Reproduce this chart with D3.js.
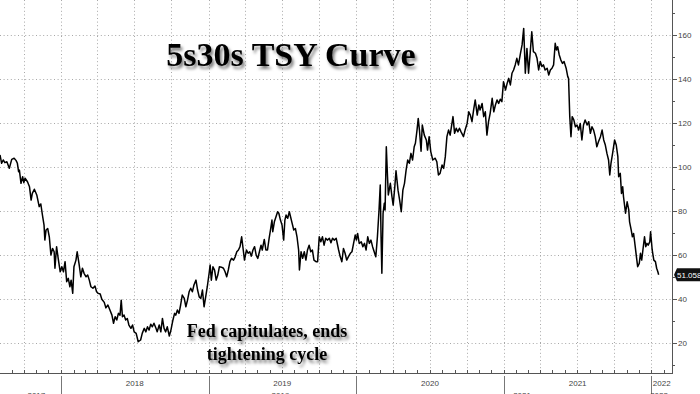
<!DOCTYPE html>
<html lang="en">
<head>
<meta charset="utf-8" />
<title>5s30s TSY Curve</title>
<script src="https://cdn.jsdelivr.net/npm/d3@7"></script>
<style>
  body { margin: 0; background: #fff; }
  svg { display: block; }
  .axis-label { font-family: "Liberation Sans", Arial, sans-serif; font-size: 8px; fill: #444; }
  .serif { font-family: "Liberation Serif", "Times New Roman", serif; font-weight: bold; fill: #000; }
</style>
</head>
<body>
<div id="chart"></div>
<script>
// 5s30s spread (bp)
const dates = [
  '2017-08-03','2017-08-07','2017-08-11','2017-08-15','2017-08-20','2017-08-26','2017-09-01','2017-09-07','2017-09-12','2017-09-15',
  '2017-09-18','2017-09-20','2017-09-24','2017-09-28','2017-10-01','2017-10-04','2017-10-10','2017-10-15','2017-10-19','2017-10-22',
  '2017-10-27','2017-11-02','2017-11-08','2017-11-12','2017-11-16','2017-11-20','2017-11-22','2017-11-25','2017-11-29','2017-12-03',
  '2017-12-07','2017-12-11','2017-12-15','2017-12-17','2017-12-21','2017-12-25','2017-12-30',
  '2018-01-03','2018-01-07','2018-01-11','2018-01-15','2018-01-19','2018-01-23','2018-01-26','2018-01-30','2018-02-02','2018-02-07',
  '2018-02-10','2018-02-15','2018-02-19','2018-02-23','2018-02-27','2018-03-04','2018-03-08','2018-03-12','2018-03-16','2018-03-21',
  '2018-03-26','2018-03-30','2018-04-03','2018-04-08','2018-04-12','2018-04-18','2018-04-22','2018-04-27','2018-05-02','2018-05-07',
  '2018-05-11','2018-05-15','2018-05-19','2018-05-23','2018-05-27','2018-05-30','2018-06-02','2018-06-06','2018-06-10','2018-06-14',
  '2018-06-18','2018-06-23','2018-06-27','2018-07-01','2018-07-06','2018-07-11','2018-07-17','2018-07-21','2018-07-26','2018-07-30',
  '2018-08-03','2018-08-07','2018-08-11','2018-08-15','2018-08-19','2018-08-24','2018-08-27','2018-09-01','2018-09-05','2018-09-09',
  '2018-09-13','2018-09-17','2018-09-21','2018-09-26','2018-09-30','2018-10-05','2018-10-09','2018-10-12','2018-10-16','2018-10-20',
  '2018-10-24','2018-10-28','2018-11-02','2018-11-06','2018-11-10','2018-11-14','2018-11-18','2018-11-22','2018-11-26','2018-12-01',
  '2018-12-05','2018-12-09','2018-12-13','2018-12-17','2018-12-21','2018-12-25','2018-12-29',
  '2019-01-03','2019-01-05','2019-01-08','2019-01-12','2019-01-16','2019-01-20','2019-01-24','2019-01-28','2019-02-02','2019-02-07',
  '2019-02-11','2019-02-15','2019-02-19','2019-02-23','2019-02-27','2019-03-04','2019-03-08','2019-03-12','2019-03-16','2019-03-20',
  '2019-03-24','2019-03-28','2019-03-31','2019-04-05','2019-04-09','2019-04-13','2019-04-17','2019-04-21','2019-04-25','2019-04-29',
  '2019-05-03','2019-05-07','2019-05-11','2019-05-14','2019-05-19','2019-05-23','2019-05-27','2019-05-31','2019-06-04','2019-06-07',
  '2019-06-09','2019-06-13','2019-06-17','2019-06-21','2019-06-24','2019-06-28','2019-07-02','2019-07-06','2019-07-09','2019-07-12',
  '2019-07-16','2019-07-20','2019-07-23','2019-07-27','2019-07-31','2019-08-04','2019-08-08','2019-08-12','2019-08-14','2019-08-18',
  '2019-08-22','2019-08-26','2019-08-30','2019-09-03','2019-09-07','2019-09-11','2019-09-15','2019-09-19','2019-09-24','2019-09-28',
  '2019-10-02','2019-10-06','2019-10-10','2019-10-14','2019-10-18','2019-10-22','2019-10-27','2019-10-31','2019-11-04','2019-11-08',
  '2019-11-13','2019-11-19','2019-11-23','2019-11-27','2019-12-01','2019-12-05','2019-12-09','2019-12-13','2019-12-18','2019-12-22',
  '2019-12-26','2019-12-30',
  '2020-01-02','2020-01-05','2020-01-09','2020-01-14','2020-01-18','2020-01-22','2020-01-26','2020-01-30','2020-02-03','2020-02-07',
  '2020-02-11','2020-02-15','2020-02-19','2020-02-23','2020-02-27','2020-03-01','2020-03-03','2020-03-05','2020-03-08','2020-03-11',
  '2020-03-13','2020-03-16','2020-03-19','2020-03-21','2020-03-26','2020-03-30','2020-04-02','2020-04-06','2020-04-09','2020-04-14',
  '2020-04-18','2020-04-22','2020-04-26','2020-04-30','2020-05-04','2020-05-08','2020-05-12','2020-05-16','2020-05-20','2020-05-24',
  '2020-05-27','2020-05-31','2020-06-03','2020-06-06','2020-06-10','2020-06-13','2020-06-18','2020-06-23','2020-06-26','2020-06-30',
  '2020-07-04','2020-07-09','2020-07-15','2020-07-19','2020-07-23','2020-07-27','2020-08-01','2020-08-05','2020-08-09','2020-08-13',
  '2020-08-17','2020-08-21','2020-08-28','2020-09-01','2020-09-05','2020-09-09','2020-09-13','2020-09-17','2020-09-23','2020-09-27',
  '2020-10-02','2020-10-06','2020-10-10','2020-10-14','2020-10-18','2020-10-22','2020-10-27','2020-10-31','2020-11-03','2020-11-08',
  '2020-11-12','2020-11-16','2020-11-20','2020-11-24','2020-11-28','2020-12-03','2020-12-07','2020-12-11','2020-12-15','2020-12-19',
  '2020-12-23','2020-12-27','2020-12-31',
  '2021-01-05','2021-01-09','2021-01-13','2021-01-17','2021-01-21','2021-01-25','2021-01-29','2021-02-02','2021-02-06','2021-02-11',
  '2021-02-15','2021-02-19','2021-02-23','2021-02-27','2021-03-03','2021-03-07','2021-03-11','2021-03-15','2021-03-20','2021-03-24',
  '2021-03-28','2021-04-01','2021-04-05','2021-04-09','2021-04-13','2021-04-18','2021-04-22','2021-04-26','2021-04-30','2021-05-04',
  '2021-05-08','2021-05-11','2021-05-14','2021-05-18','2021-05-22','2021-05-26','2021-05-30','2021-06-04','2021-06-08','2021-06-10',
  '2021-06-13','2021-06-16','2021-06-19','2021-06-23','2021-06-27','2021-07-01','2021-07-05','2021-07-09','2021-07-13','2021-07-17',
  '2021-07-21','2021-07-26','2021-07-30','2021-08-03','2021-08-07','2021-08-11','2021-08-15','2021-08-19','2021-08-23','2021-08-28',
  '2021-09-01','2021-09-05','2021-09-09','2021-09-13','2021-09-17','2021-09-20','2021-09-23','2021-09-27','2021-10-02','2021-10-06',
  '2021-10-10','2021-10-12','2021-10-16','2021-10-19','2021-10-22','2021-10-24','2021-10-29','2021-11-02','2021-11-06','2021-11-08',
  '2021-11-12','2021-11-15','2021-11-18','2021-11-22','2021-11-25','2021-11-28','2021-12-02','2021-12-05','2021-12-08','2021-12-11',
  '2021-12-15','2021-12-18','2021-12-21','2021-12-24','2021-12-28','2021-12-30',
  '2022-01-03','2022-01-07','2022-01-11','2022-01-14','2022-01-17','2022-01-19'
]

const values = [
  105.5,101.7,103.2,102,102.4,99.4,103.5,104,102.9,101.7,
  97.9,98.6,92.6,95.6,92.9,94.9,93.3,91,85,88,
  89.9,87.3,82,83.2,78.2,73.6,66.8,71.4,72.1,68.3,
  60,63,61.5,54,63.8,58.5,52.4,
  54.7,52.4,57,47.9,49.4,45.6,48.6,42.6,54.7,57.7,
  61.5,55.5,50.1,54,51.7,50.1,50.9,48.6,45.6,44.9,
  45.9,43.3,42.6,42.3,39.9,38.5,36,37.3,35,32.7,
  29,32,30.5,33.5,32.7,39.5,32,32.7,30.5,31.2,
  28.2,26.7,28.2,25.1,24.4,20.6,21.4,24.4,26.7,25.1,
  27.4,25.9,28.6,27.4,29,26.7,25.1,28.2,25.1,31.2,
  26.7,25.1,27.4,23.2,25.9,30.5,33.5,32.7,35,33.5,
  37.3,41.8,40.3,36.5,39.5,43.3,44.9,43.3,46.4,48.6,
  44.1,41,40.3,44.1,36.5,41,45.6,
  52.4,55.5,48.6,54.7,53.2,48.6,50.9,54.7,54.5,54,
  52.4,50.1,53.2,57,58.5,57.7,59.2,61.5,62.3,63.8,
  68.3,62.3,57.7,62.3,60.8,61.5,59.5,62.3,63.8,60,
  58.5,61.5,64.5,62.3,67.1,62.3,62.3,67.6,72.1,75.9,
  70.6,75.1,77.4,79.7,79,75.9,73.6,66.8,75.9,78.2,
  76.7,79.7,77.4,74.4,71.4,72.1,68.3,62.3,53.2,61.5,
  58.5,61.5,57.7,62.3,64.5,61.5,62.3,57.7,57,57,
  68.3,66,68.3,64.5,67.6,66.8,67.6,65.6,67.6,66.8,
  67.6,62.3,59.2,57,63,60.8,57.7,59.2,60.8,61.5,
  65.3,69.1,
  66.8,69.8,65.3,66,63.8,65.3,62.3,68.3,65.3,66.8,
  63.8,61.5,59.2,68.3,80.5,91.8,68.3,51.7,79,83.5,
  80.5,109.2,95.6,87.3,92.6,86.5,82.7,91,98.3,89.5,
  85,79.7,89.5,92.6,98.6,103.2,101.7,106.2,103.2,109.2,
  110.8,116.8,122.1,116.8,107.2,119.1,114.5,112.3,107.7,113.8,
  107,103.2,104,102.4,96.4,97.1,100.9,99.4,104.7,113.8,
  116.8,114.5,122.9,115.3,117.6,116,117.6,116,113.8,116.8,
  119.8,125.1,123.6,120.6,125.9,130.5,123.6,128.2,125.9,128.9,
  122.9,125.1,114.5,120.6,124.4,131.2,125.1,128.2,130.5,128.9,
  130.8,129.7,138.8,
  135,138,140.3,137.3,142.6,144.1,146.4,149.4,146.4,151.7,
  155.5,163,142.6,153.9,142.6,151.7,161.5,152.4,151.7,149.4,
  144.1,148,145.7,146.4,144.1,144.9,141.8,144.1,144.9,146.4,
  156.2,153.2,154.7,150.9,148.6,147.1,147.9,144.9,141.1,140.3,
  122.9,113.8,122.9,121.4,118.3,119.1,116.8,119.8,112.3,119.1,
  121.4,119.1,120.6,115.3,118.3,116.8,113.8,109.2,111.5,113.8,
  116.8,112.3,110,106.2,103.2,96.4,101.7,106.2,112.3,110,
  104.7,95.6,97.1,88,91,86.5,79,84.2,80.5,75.1,
  71.4,68.3,69.8,63.8,59.2,54.7,56.2,60.8,57.7,62.3,
  68.3,63.8,65.3,64.5,66,70.6,
  62.3,57.7,57,54,52.4,51.058
]

const xDomain = ['2017-08-03', '2022-02-21']
const yDomain = [6.4, 175.9]
const yTicks = [20, 40, 60, 80, 100, 120, 140, 160]
const yMinorTicks = [10, 30, 50, 70, 90, 110, 130, 150, 170]
const yearLabels = ['2018', '2019', '2020', '2021', '2022']
// second label row, mostly below the bottom edge as in the source
const subLabels = ['2017', '2019', '2021', '2022']
const subLabelDates = ['2017-11-01', '2019-06-28', '2021-02-15', '2022-01-20']
const title = '5s30s TSY Curve'
const note = ['Fed capitulates, ends', 'tightening cycle']

const W = 700, H = 394
const plotRight = 672, plotBottom = 373

const parse = d3.timeParse('%Y-%m-%d')
const data = dates.map((d, i) => ({ date: parse(d), value: values[i] }))

const x = d3.scaleTime().domain(xDomain.map(parse)).range([0, plotRight])
const y = d3.scaleLinear().domain(yDomain).range([plotBottom, 0])

const svg = d3.select('#chart').append('svg').attr('width', W).attr('height', H)
svg.append('rect').attr('width', W).attr('height', H).attr('fill', '#fff')

const defs = svg.append('defs')
defs.append('filter').attr('id', 'shadow')
  .attr('x', '-10%').attr('y', '-30%').attr('width', '130%').attr('height', '180%')
  .append('feDropShadow')
  .attr('dx', 2).attr('dy', 3).attr('stdDeviation', 1.6)
  .attr('flood-color', '#000').attr('flood-opacity', 0.5)

// Grid
const grid = svg.append('g').attr('stroke', '#a8a8a8').attr('stroke-width', 1).attr('stroke-dasharray', '1,2.6')
grid.selectAll('line.h').data(yTicks).join('line')
  .attr('x1', 0).attr('x2', plotRight)
  .attr('y1', (d) => Math.round(y(d)) + 0.5).attr('y2', (d) => Math.round(y(d)) + 0.5)
const quarters = d3.timeMonth.every(3).range(x.domain()[0], x.domain()[1])
grid.selectAll('line.v').data(quarters).join('line')
  .attr('x1', (d) => Math.round(x(d)) + 0.5).attr('x2', (d) => Math.round(x(d)) + 0.5)
  .attr('y1', 0).attr('y2', plotBottom)

// Right axis
const axisCol = '#555'
const yAxis = svg.append('g')
yAxis.append('line').attr('x1', plotRight + 0.5).attr('x2', plotRight + 0.5).attr('y1', 0).attr('y2', plotBottom)
  .attr('stroke', axisCol)
yAxis.selectAll('line.major').data(yTicks).join('line')
  .attr('x1', plotRight).attr('x2', plotRight + 5)
  .attr('y1', (d) => Math.round(y(d)) + 0.5).attr('y2', (d) => Math.round(y(d)) + 0.5)
  .attr('stroke', axisCol)
yAxis.selectAll('line.minor').data(yMinorTicks).join('line')
  .attr('x1', plotRight).attr('x2', plotRight + 3)
  .attr('y1', (d) => Math.round(y(d)) + 0.5).attr('y2', (d) => Math.round(y(d)) + 0.5)
  .attr('stroke', axisCol)
yAxis.selectAll('text').data(yTicks).join('text')
  .attr('class', 'axis-label')
  .attr('x', plotRight + 6).attr('y', (d) => y(d)).attr('dy', '0.35em')
  .text((d) => d)

// Bottom axis
const xAxis = svg.append('g')
xAxis.append('line').attr('x1', 0).attr('x2', plotRight + 1).attr('y1', plotBottom + 0.5).attr('y2', plotBottom + 0.5)
  .attr('stroke', axisCol)
const months = d3.timeMonth.range(x.domain()[0], x.domain()[1])
xAxis.selectAll('line.m').data(months).join('line')
  .attr('x1', (d) => Math.round(x(d)) + 0.5).attr('x2', (d) => Math.round(x(d)) + 0.5)
  .attr('y1', plotBottom - 3).attr('y2', plotBottom)
  .attr('stroke', axisCol)
const yearStarts = d3.timeYear.range(x.domain()[0], x.domain()[1])
xAxis.selectAll('line.y').data(yearStarts).join('line')
  .attr('x1', (d) => Math.round(x(d)) + 0.5).attr('x2', (d) => Math.round(x(d)) + 0.5)
  .attr('y1', plotBottom + 3).attr('y2', H)
  .attr('stroke', '#777')
xAxis.selectAll('text.year').data(yearLabels).join('text')
  .attr('class', 'axis-label')
  .attr('text-anchor', 'middle')
  .attr('x', (d) => {
    const a = x(parse(d + '-01-01'))
    const b = Math.min(x(parse((+d + 1) + '-01-01')), plotRight)
    return (a + b) / 2
  })
  .attr('y', 386)
  .text((d) => d)
xAxis.selectAll('text.sub').data(subLabels).join('text')
  .attr('class', 'axis-label')
  .attr('text-anchor', 'middle')
  .attr('x', (d, i) => x(parse(subLabelDates[i])))
  .attr('y', 398)
  .text((d) => d)

// Series
const line = d3.line().x((d) => x(d.date)).y((d) => y(d.value))
svg.append('path').datum(data)
  .attr('fill', 'none').attr('stroke', '#000').attr('stroke-width', 1.5)
  .attr('stroke-linejoin', 'round')
  .attr('d', line)

// Last value label
const last = data[data.length - 1]
const ly = y(last.value)
svg.append('path')
  .attr('d', `M${plotRight + 2},${ly} L${plotRight + 5},${ly - 6.5} L${W},${ly - 6.5} L${W},${ly + 6.5} L${plotRight + 5},${ly + 6.5} Z`)
  .attr('fill', '#111')
svg.append('text')
  .attr('class', 'axis-label')
  .attr('x', plotRight + 5).attr('y', ly).attr('dy', '0.35em')
  .style('fill', '#fff')
  .text(d3.format('.3f')(last.value))

// Title and note
svg.append('text').attr('class', 'serif')
  .attr('x', 291).attr('y', 66).attr('text-anchor', 'middle')
  .attr('font-size', 34).attr('filter', 'url(#shadow)')
  .text(title)
svg.append('g').attr('filter', 'url(#shadow)')
  .selectAll('text').data(note).join('text')
  .attr('class', 'serif')
  .attr('x', 267).attr('y', (d, i) => 337 + i * 23)
  .attr('text-anchor', 'middle').attr('font-size', 18)
  .text((d) => d)
</script>
</body>
</html>
